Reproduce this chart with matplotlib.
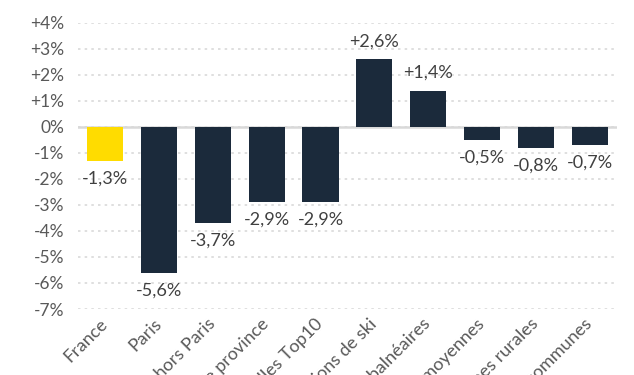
import matplotlib.pyplot as plt
from matplotlib.ticker import FuncFormatter

categories = [
    "France", "Paris", "France hors Paris", "Grandes villes de province",
    "Villes Top10", "Stations de ski", "Stations balnéaires",
    "Villes moyennes", "Communes rurales", "Autres communes",
]
values = [-1.3, -5.6, -3.7, -2.9, -2.9, 2.6, 1.4, -0.5, -0.8, -0.7]
highlight = "France"

NAVY = "#1B2A3B"
YELLOW = "#FFDC00"
TEXT = "#404040"
GRID = "#D9D9D9"


def fmt_pct(v):
    s = f"{v:+.1f}%".replace(".", ",")
    return s


plt.rcParams["font.family"] = ["Lato", "DejaVu Sans"]

fig = plt.figure(figsize=(6.34, 3.75), dpi=100)
ax = fig.add_axes([0.123, 0.176, 0.850, 0.763])

colors = [YELLOW if c == highlight else NAVY for c in categories]
x = list(range(len(categories)))
ax.bar(x, values, width=0.67, color=colors, zorder=3)

# data labels outside the bar end
for xi, v in zip(x, values):
    if v >= 0:
        ax.annotate(fmt_pct(v), (xi, v), xytext=(0, 7), textcoords="offset points",
                    ha="center", va="bottom", fontsize=13, color=TEXT)
    else:
        ax.annotate(fmt_pct(v), (xi, v), xytext=(0, -7), textcoords="offset points",
                    ha="center", va="top", fontsize=13, color=TEXT)

ax.set_xlim(-0.5, len(categories) - 0.5)
ax.set_ylim(-7, 4)
ax.set_yticks(range(-7, 5))
ax.yaxis.set_major_formatter(FuncFormatter(lambda v, p: "0%" if v == 0 else f"{v:+.0f}%"))
ax.yaxis.grid(True, linestyle=(0, (1.5, 2.5)), color=GRID, linewidth=1.2, zorder=0)
ax.axhline(0, color=GRID, linewidth=1.8, zorder=2)

for s in ax.spines.values():
    s.set_visible(False)
ax.tick_params(axis="y", length=0, pad=10, labelsize=12.5, labelcolor="#595959")
ax.tick_params(axis="x", length=0, pad=9, labelsize=13, labelcolor="#595959")
ax.set_xticks(x)
ax.set_xticklabels(categories, rotation=45, ha="right", va="center", rotation_mode="anchor")

fig.savefig("out.png", dpi=100)
